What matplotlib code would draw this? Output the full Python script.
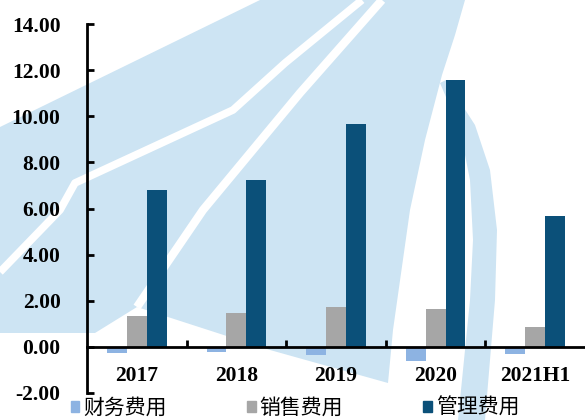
import numpy as np
import matplotlib
matplotlib.use("Agg")
import matplotlib.pyplot as plt
from matplotlib.patches import Polygon, Patch

plt.rcParams['axes.unicode_minus'] = False

categories = ["2017", "2018", "2019", "2020", "2021H1"]
finance = [-0.25, -0.24, -0.35, -0.6, -0.3]     # 财务费用
sales = [1.35, 1.48, 1.74, 1.65, 0.87]         # 销售费用
admin = [6.79, 7.22, 9.67, 11.56, 5.67]        # 管理费用
series_names = ["财务费用", "销售费用", "管理费用"]
colors = ["#8db3e2", "#a6a6a6", "#0b5079"]
yticks = [-2, 0, 2, 4, 6, 8, 10, 12, 14]

fig = plt.figure(figsize=(5.85, 4.2), dpi=100)

# light blue watermark behind the chart (figure pixel coords, y down)
bg = fig.add_axes([0, 0, 1, 1], zorder=0)
bg.set_xlim(0, 585)
bg.set_ylim(420, 0)
bg.axis("off")
wm = "#cde4f3"
main_shape = [(0, 127), (260, 0), (465, 0), (455, 35), (442, 75), (425, 140),
              (410, 210), (393, 330), (388, 383), (270, 350), (137, 307),
              (95, 333), (0, 333)]
bg.add_patch(Polygon(main_shape, closed=True, fc=wm, ec="none"))
arc = [(440, 83), (460, 130), (470, 180), (473, 240), (470, 300), (458, 420),
       (485, 420), (495, 300), (497, 230), (490, 170), (475, 125), (446, 80)]
bg.add_patch(Polygon(arc, closed=True, fc=wm, ec="none"))
s1 = np.array([(0, 272), (60, 210), (75, 183), (233, 110), (285, 63), (362, 0)])
s2 = np.array([(137, 307), (203, 210), (300, 93), (382, 0)])
bg.plot(s1[:, 0], s1[:, 1], color="white", lw=5.5, solid_capstyle="butt")
bg.plot(s2[:, 0], s2[:, 1], color="white", lw=6, solid_capstyle="butt")

ax = fig.add_axes([87 / 585, 1 - 393 / 420, 1 - 87 / 585, (393 - 24) / 420], zorder=1)
ax.set_facecolor("none")

x = np.arange(len(categories))
w = 0.2
data = [finance, sales, admin]
for i, vals in enumerate(data):
    ax.bar(x + (i - 1) * w, vals, w, color=colors[i], zorder=2)

ax.set_xlim(-0.5, len(categories) - 0.5)
ax.set_ylim(-2, 14)
ax.set_yticks(yticks)
ax.set_yticklabels([f"{v:.2f}" for v in yticks])

ax.spines["top"].set_visible(False)
ax.spines["right"].set_visible(False)
ax.spines["left"].set_linewidth(2)
ax.spines["bottom"].set_linewidth(2)
ax.spines["bottom"].set_position(("data", 0))
ax.spines["bottom"].set_zorder(3)

ax.set_xticks(x)
ax.set_xticklabels(categories)
ax.set_xticks(np.arange(0.5, len(categories) - 0.5, 1), minor=True)
ax.tick_params(axis="x", which="major", length=0, pad=14)
ax.tick_params(axis="x", which="minor", direction="in", length=5, width=2)
ax.tick_params(axis="y", direction="in", length=5, width=2, pad=19)

for lab in ax.get_xticklabels() + ax.get_yticklabels():
    lab.set_fontfamily("Liberation Serif")
    lab.set_fontweight("bold")
    lab.set_fontsize(15.5)

handles = [Patch(color=c) for c in colors]
fig.legend(handles, series_names, loc="center left", bbox_to_anchor=(71 / 585, 1 - 408 / 420),
           ncol=3, frameon=False, borderpad=0, borderaxespad=0,
           handlelength=0.4, handleheight=0.4, handletextpad=0.2, columnspacing=3.85,
           prop={"family": ["Noto Sans CJK SC", "DejaVu Sans"], "size": 15})

fig.savefig("out.png", dpi=100)
